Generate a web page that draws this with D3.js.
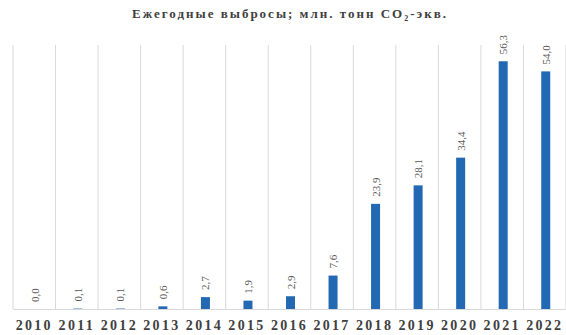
<!DOCTYPE html>
<html>
<head>
<meta charset="utf-8">
<script src="https://cdn.jsdelivr.net/npm/d3@7"></script>
<style>
  body { margin: 0; background: #fff; }
  text { font-family: "Liberation Serif", "DejaVu Serif", serif; }
</style>
</head>
<body>
<div id="chart"></div>
<script>
const years = ["2010", "2011", "2012", "2013", "2014", "2015", "2016", "2017", "2018", "2019", "2020", "2021", "2022"];
const emissions = [0.0, 0.1, 0.1, 0.6, 2.7, 1.9, 2.9, 7.6, 23.9, 28.1, 34.4, 56.3, 54.0];

const W = 566, H = 335;
const margin = { top: 45, right: 0, bottom: 26, left: 13 };
const width = W - margin.left - margin.right;
const height = H - margin.top - margin.bottom;

const svg = d3.select("#chart")
    .append("svg")
    .attr("width", W)
    .attr("height", H);

svg.append("text")
    .attr("x", 290)
    .attr("y", 18)
    .attr("text-anchor", "middle")
    .attr("font-size", 13)
    .attr("font-weight", "bold")
    .attr("letter-spacing", 2)
    .attr("fill", "#404040")
    .html('Ежегодные выбросы; млн. тонн CO<tspan font-size="8" dy="3">2</tspan><tspan dy="-3">-экв.</tspan>');

const g = svg.append("g")
    .attr("transform", `translate(${margin.left},${margin.top})`);

const x = d3.scaleBand()
    .domain(years)
    .range([0, width]);
const y = d3.scaleLinear()
    .domain([0, 60])
    .range([height, 0]);

// vertical grid at category boundaries
g.selectAll(".grid")
    .data(d3.range(years.length + 1))
    .enter()
    .append("line")
    .attr("x1", i => i * x.bandwidth())
    .attr("x2", i => i * x.bandwidth())
    .attr("y1", 0)
    .attr("y2", height)
    .attr("stroke", "#d9d9d9")
    .attr("stroke-width", 1);

const xAxis = g.append("g")
    .attr("transform", `translate(0,${height})`)
    .call(d3.axisBottom(x).tickSize(0).tickPadding(11));
xAxis.select(".domain").attr("stroke", "#d9d9d9");
xAxis.selectAll("text")
    .attr("font-family", "Liberation Serif")
    .attr("font-size", 14)
    .attr("font-weight", "bold")
    .attr("letter-spacing", 2.3)
    .attr("fill", "#404040");

const barW = 9;
g.selectAll(".bar")
    .data(emissions)
    .enter()
    .append("rect")
    .attr("class", "bar")
    .attr("x", (d, i) => x(years[i]) + x.bandwidth() / 2 - barW / 2 + 1)
    .attr("y", d => y(d))
    .attr("width", barW)
    .attr("height", d => height - y(d))
    .attr("fill", "#2268b2");

const fmt = d => d.toFixed(1).replace(".", ",");
g.selectAll(".lbl")
    .data(emissions)
    .enter()
    .append("text")
    .attr("class", "lbl")
    .attr("transform", (d, i) => `translate(${x(years[i]) + x.bandwidth() / 2 + 5},${y(d) - 7}) rotate(-90)`)
    .attr("font-size", 11)
    .attr("fill", "#595959")
    .text(fmt);
</script>
</body>
</html>
